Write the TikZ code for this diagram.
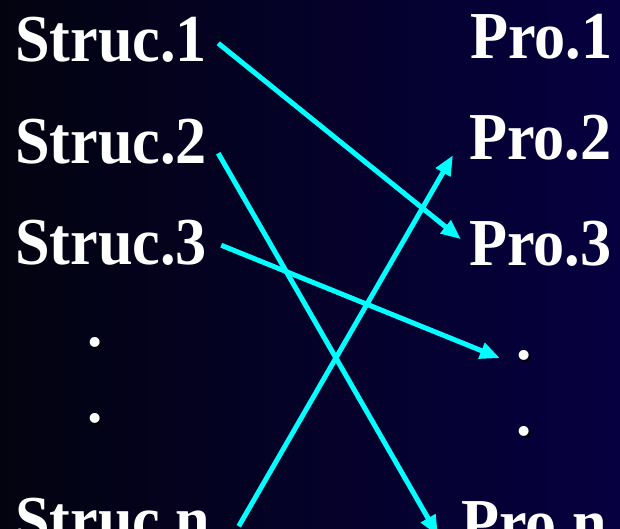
\documentclass[tikz,border=0pt]{standalone}
\usepackage{fontspec}
\setmainfont{Liberation Serif}
\usepackage{xcolor}
\usepackage{graphicx}
\usepackage{tikz}
\usetikzlibrary{arrows.meta,positioning}
\definecolor{bgleft}{HTML}{030310}
\definecolor{bgright}{HTML}{060040}
\definecolor{link}{HTML}{00FFFF}
\newcommand\tall[1]{\scalebox{1.02}[1.1]{#1}}
\newcommand\shd[1]{\makebox[0pt][l]{\hspace{2.5pt}\raisebox{-2.5pt}{\color{black}#1}}#1}

\begin{document}
\begin{tikzpicture}[x=1pt, y=-1pt, every node/.style={font=\fontsize{61}{61}\selectfont\bfseries, text=white, inner sep=0pt, anchor=base west}, arr/.style={-{Triangle[length=20pt,width=16pt]}, line width=5pt, link}]
\useasboundingbox (0,0) rectangle (620,528);
\clip (0,0) rectangle (620,528);
\shade[left color=bgleft, right color=bgright] (0,0) rectangle (620,528);
% structures
\node (s1) at (15,61) {\tall{Struc.1}};
\node (s2) at (15,163) {\tall{Struc.2}};
\node (s3) at (15,264) {\tall{Struc.3}};
\node (sd1) at (87,346) {\shd{.}};
\node (sd2) at (87,422) {\shd{.}};
\node (sn) at (15,542) {\tall{Struc.n}};
% properties
\node (p1) at (470,58) {\tall{Pro.1}};
\node (p2) at (469,159) {\tall{Pro.2}};
\node (p3) at (469,265) {\tall{Pro.3}};
\node (pd1) at (516,359) {\shd{.}};
\node (pd2) at (516,435) {\shd{.}};
\node (pn) at (461,545) {\tall{Pro.n}};
\draw[arr] ([shift={(11,4)}]s1.east)--([shift={(-8,-4)}]p3.west);
\draw[arr] ([shift={(11,12)}]s2.east)--([shift={(-23,12)}]pn.west);
\draw[arr] ([shift={(14,3)}]s3.east)--([shift={(-16,2)}]pd1.west);
\draw[arr] ([shift={(28,6)}]sn.east)--([shift={(-16,-5)}]p2.south west);
\end{tikzpicture}
\end{document}
